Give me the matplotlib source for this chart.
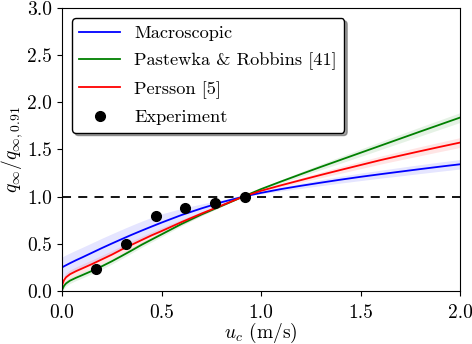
import matplotlib
matplotlib.use("Agg")
import matplotlib.pyplot as plt
import numpy as np

plt.rcParams['font.family'] = 'serif'
plt.rcParams['font.serif'] = ['cmr10']
plt.rcParams['mathtext.fontset'] = 'cm'
plt.rcParams['axes.formatter.use_mathtext'] = True
plt.rcParams['font.size'] = 14

u = [0, 0.01, 0.02, 0.04, 0.07, 0.1, 0.15, 0.2, 0.25, 0.3, 0.35, 0.4, 0.45, 0.5,
     0.6, 0.7, 0.8, 0.91, 1.0, 1.1, 1.2, 1.3, 1.4, 1.5, 1.6, 1.7, 1.8, 1.9, 2.0]

macro = [0.25, 0.262, 0.273, 0.295, 0.326, 0.355, 0.405, 0.455, 0.503, 0.55, 0.596, 0.64, 0.683, 0.725,
         0.805, 0.875, 0.94, 1.0, 1.04, 1.08, 1.115, 1.148, 1.18, 1.21, 1.238, 1.265, 1.292, 1.318, 1.343]
macro_err = [0.11, 0.11, 0.11, 0.108, 0.107, 0.106, 0.105, 0.104, 0.103, 0.102, 0.101, 0.1, 0.097, 0.092,
             0.07, 0.047, 0.025, 0.0, 0.01, 0.02, 0.027, 0.032, 0.036, 0.04, 0.042, 0.045, 0.047, 0.049, 0.05]

pastewka = [0.01, 0.055, 0.08, 0.11, 0.14, 0.167, 0.213, 0.262, 0.315, 0.372, 0.43, 0.49, 0.545, 0.6,
            0.71, 0.81, 0.9, 1.0, 1.08, 1.16, 1.238, 1.315, 1.39, 1.465, 1.54, 1.615, 1.69, 1.764, 1.838]
pastewka_err = [0.03, 0.03, 0.03, 0.03, 0.03, 0.03, 0.03, 0.03, 0.03, 0.029, 0.028, 0.027, 0.026, 0.025,
                0.02, 0.014, 0.008, 0.0, 0.01, 0.018, 0.025, 0.03, 0.035, 0.039, 0.042, 0.045, 0.048, 0.05, 0.052]

persson = [0.06, 0.115, 0.145, 0.178, 0.21, 0.238, 0.285, 0.335, 0.385, 0.44, 0.49, 0.54, 0.59, 0.635,
           0.73, 0.82, 0.905, 1.0, 1.062, 1.12, 1.175, 1.23, 1.283, 1.335, 1.387, 1.435, 1.482, 1.528, 1.573]
persson_err = [0.045, 0.045, 0.045, 0.045, 0.045, 0.045, 0.044, 0.043, 0.042, 0.041, 0.04, 0.039, 0.037, 0.035,
               0.028, 0.02, 0.01, 0.0, 0.01, 0.018, 0.025, 0.03, 0.035, 0.039, 0.042, 0.045, 0.048, 0.05, 0.052]

exp_u = [0.17, 0.32, 0.47, 0.62, 0.77, 0.92]
exp_q = [0.23, 0.495, 0.80, 0.885, 0.935, 1.0]

fig = plt.figure(figsize=(4.72, 3.44), dpi=100)
ax = fig.add_axes([0.1314, 0.154, 0.8432, 0.823])

series = [
    (macro, macro_err, 'b', 'Macroscopic'),
    (pastewka, pastewka_err, 'g', 'Pastewka & Robbins [41]'),
    (persson, persson_err, 'r', 'Persson [5]'),
]
ua = np.array(u)
for vals, err, col, lab in series:
    v = np.array(vals)
    e = np.array(err)
    ax.fill_between(ua, v - e, v + e, color=col, alpha=0.1, lw=0)
    ax.plot(ua, v, color=col, lw=1.3, label=lab)

ax.axhline(1.0, color='k', ls=(0, (5, 4)), lw=1.3)
ax.plot(exp_u, exp_q, 'o', color='k', ms=7, label='Experiment', zorder=5)

ax.set_xlim(0, 2.0)
ax.set_ylim(0, 3.0)
ax.set_xticks([0, 0.5, 1.0, 1.5, 2.0])
ax.set_yticks([0, 0.5, 1.0, 1.5, 2.0, 2.5, 3.0])
ax.set_xticklabels(['0.0', '0.5', '1.0', '1.5', '2.0'])
ax.set_yticklabels(['0.0', '0.5', '1.0', '1.5', '2.0', '2.5', '3.0'])
ax.tick_params(axis='x', pad=6)
ax.set_xlabel(r'$u_c$ (m/s)', labelpad=-1)
ax.set_ylabel(r'$q_\infty/q_{\infty,0.91}$', labelpad=2)

leg = ax.legend(loc='upper left', shadow=True, fancybox=True, framealpha=1,
                edgecolor='k', numpoints=1, handlelength=2.2, fontsize=13.2,
                labelspacing=0.6, borderaxespad=0.55)
leg.get_frame().set_linewidth(1.0)

fig.savefig('out.png', dpi=100)
